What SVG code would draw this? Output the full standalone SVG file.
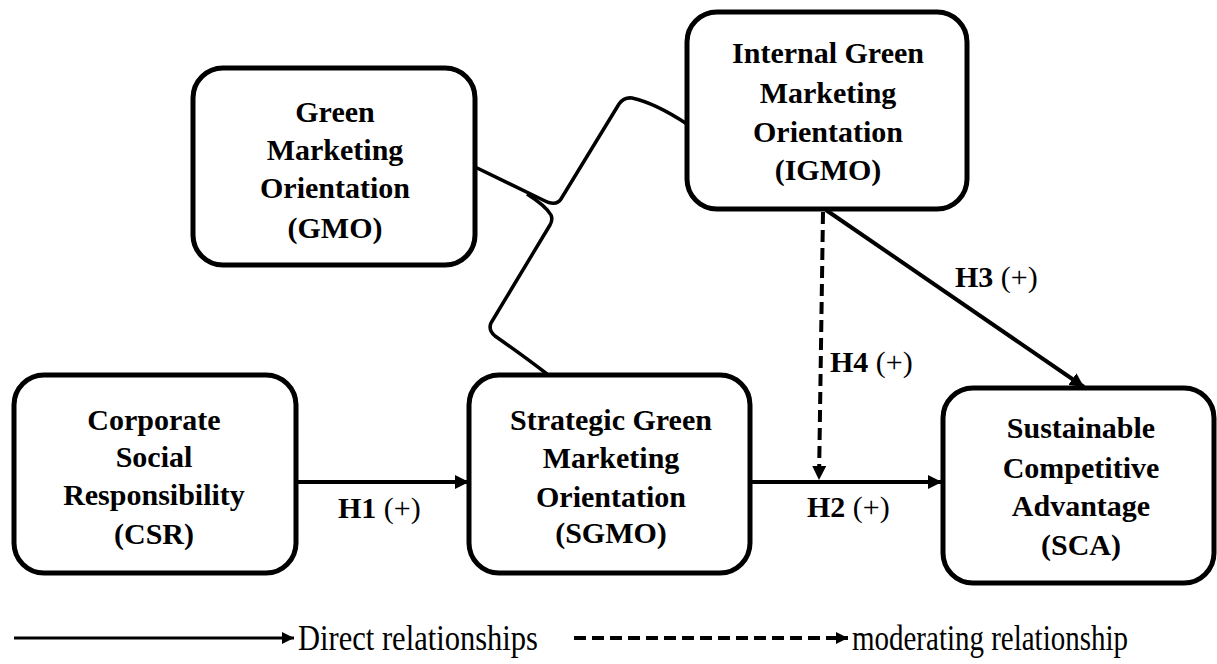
<svg xmlns="http://www.w3.org/2000/svg" width="1217" height="664" viewBox="0 0 1217 664">
<style>
.box{fill:#fff;stroke:#000;stroke-width:5}
.t{font-family:'Liberation Serif','Times New Roman',serif;font-weight:bold;font-size:30px;text-anchor:middle;fill:#000}
.lab{font-family:'Liberation Serif','Times New Roman',serif;font-size:30px;fill:#000}
.b{font-weight:bold}
.leg{font-family:'Liberation Serif','Times New Roman',serif;font-size:35px;fill:#000}
.ln{fill:none;stroke:#000;stroke-width:4}
.cv{fill:none;stroke:#000;stroke-width:3.5;stroke-linejoin:round}
.dash{fill:none;stroke:#000;stroke-width:4;stroke-dasharray:12 6}
</style>
<defs>
<marker id="ah" markerUnits="userSpaceOnUse" markerWidth="16" markerHeight="14" refX="14" refY="7" orient="auto">
<path d="M0,0 L14,7 L0,14 Z" fill="#000"/>
</marker>
<marker id="ahs" markerUnits="userSpaceOnUse" markerWidth="14" markerHeight="12" refX="12" refY="6" orient="auto">
<path d="M0,0 L12,6 L0,12 Z" fill="#000"/>
</marker>
</defs>
<rect width="1217" height="664" fill="#fff"/>
<g id="connectors">
<path class="cv" d="M475,167 L543,200 Q556,207 561,199 L619,104 Q624,97 632,98 Q655,103 687,124"/>
<path class="cv" d="M527,194 Q546,206 551,215 Q553,220 550,225 L491,323 Q488,330 495,336 Q525,357 547,374"/>
<line class="ln" x1="296" y1="482" x2="469" y2="482" marker-end="url(#ah)"/>
<line class="ln" x1="750" y1="482" x2="942" y2="482" marker-end="url(#ah)"/>
<line class="ln" x1="826" y1="210" x2="1084" y2="387" stroke-width="3.5" marker-end="url(#ah)"/>
<line class="dash" x1="823" y1="212" x2="819" y2="480" marker-end="url(#ah)"/>
<text class="lab" x="338" y="518"><tspan class="b">H1</tspan> (+)</text>
<text class="lab" x="807" y="517"><tspan class="b">H2</tspan> (+)</text>
<text class="lab" x="955" y="287"><tspan class="b">H3</tspan> (+)</text>
<text class="lab" x="830" y="372"><tspan class="b">H4</tspan> (+)</text>
</g>
<g id="CSR">
<rect class="box" x="14" y="375" width="282" height="198" rx="30"/>
<text class="t" x="154" y="430">Corporate</text>
<text class="t" x="154" y="467">Social</text>
<text class="t" x="154" y="505">Responsibility</text>
<text class="t" x="154" y="544">(CSR)</text>
</g>
<g id="GMO">
<rect class="box" x="193" y="68" width="282" height="197" rx="30"/>
<text class="t" x="335" y="122">Green</text>
<text class="t" x="335" y="160">Marketing</text>
<text class="t" x="335" y="198">Orientation</text>
<text class="t" x="335" y="238">(GMO)</text>
</g>
<g id="IGMO">
<rect class="box" x="687" y="12" width="280" height="197" rx="30"/>
<text class="t" x="828" y="63">Internal Green</text>
<text class="t" x="828" y="103">Marketing</text>
<text class="t" x="828" y="142">Orientation</text>
<text class="t" x="828" y="180">(IGMO)</text>
</g>
<g id="SGMO">
<rect class="box" x="469" y="375" width="281" height="198" rx="30"/>
<text class="t" x="611" y="430">Strategic Green</text>
<text class="t" x="611" y="468">Marketing</text>
<text class="t" x="611" y="507">Orientation</text>
<text class="t" x="611" y="543">(SGMO)</text>
</g>
<g id="SCA">
<rect class="box" x="943" y="388" width="271" height="195" rx="30"/>
<text class="t" x="1081" y="438">Sustainable</text>
<text class="t" x="1081" y="478">Competitive</text>
<text class="t" x="1081" y="516">Advantage</text>
<text class="t" x="1081" y="555">(SCA)</text>
</g>
<g id="legend">
<line x1="14" y1="638" x2="294" y2="638" stroke="#000" stroke-width="3" marker-end="url(#ahs)"/>
<text class="leg" x="298" y="650" textLength="240" lengthAdjust="spacingAndGlyphs">Direct relationships</text>
<line x1="574" y1="638" x2="848" y2="638" stroke="#000" stroke-width="4" stroke-dasharray="12 6" marker-end="url(#ahs)"/>
<text class="leg" x="852" y="650" textLength="276" lengthAdjust="spacingAndGlyphs">moderating relationship</text>
</g>
</svg>
